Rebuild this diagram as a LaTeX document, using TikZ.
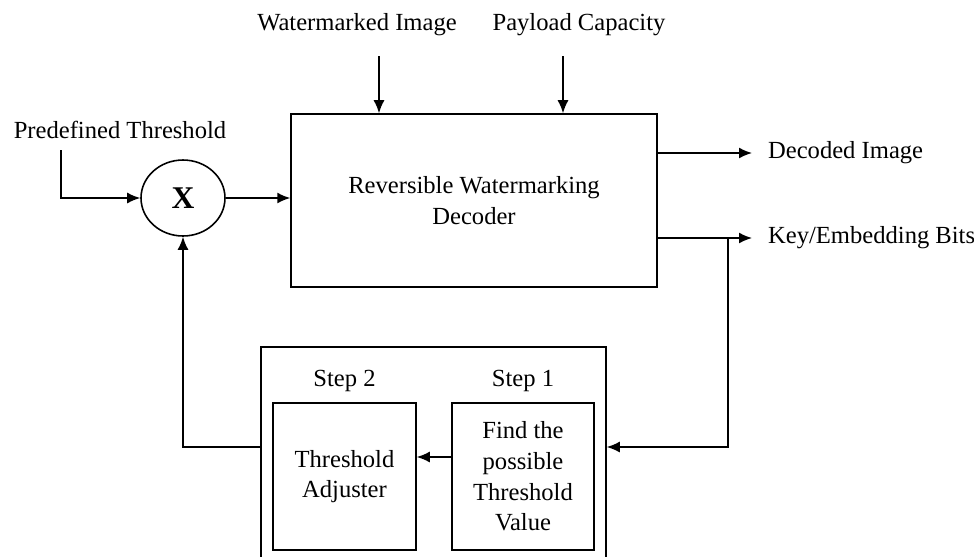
\documentclass[tikz,border=0pt]{standalone}
\usepackage{fontspec}
\setmainfont{Liberation Serif}
\usetikzlibrary{arrows.meta,positioning,shapes.geometric,calc}
\tikzset{
  bloque/.style={rectangle,draw=black,line width=0.9pt,align=center,inner sep=2pt,
    font=\fontsize{14}{17.5}\selectfont},
  texto/.style={inner sep=1pt,font=\fontsize{14}{17}\selectfont},
  mult/.style={ellipse,draw=black,line width=0.9pt,minimum width=1.68cm,minimum height=1.52cm,
    inner sep=0pt,font=\fontsize{18}{20}\selectfont\bfseries},
  flecha/.style={-{Latex[length=2.6mm,width=2.2mm]},line width=0.9pt},
}
\begin{document}
\begin{tikzpicture}[x=0.02cm,y=-0.02cm]
    \useasboundingbox (0,0) rectangle (974,556);
    \clip (0,0) rectangle (974,556);
    \node[bloque,minimum width=7.32cm,minimum height=3.46cm] (dec) at (474,200.5) {Reversible Watermarking\\Decoder};
    \node[mult] (x) at (183,198) {X};
    \node[bloque,minimum width=6.9cm,minimum height=4.66cm] (ext) at (433.5,463.5) {};
    \node[bloque,minimum width=2.86cm,minimum height=2.94cm] (paso2) at (344.5,476.5) {Threshold\\Adjuster};
    \node[bloque,minimum width=2.84cm,minimum height=2.94cm] (paso1) at (523,476.5) {Find the\\possible\\Threshold\\Value};
    \node[texto,above=0.16cm of paso2] (t2) {Step 2};
    \node[texto,above=0.16cm of paso1] (t1) {Step 1};
    \node[texto] (img) at (357,25) {Watermarked Image};
    \node[texto] (cap) at (579,25) {Payload Capacity};
    \node[texto] (umb) at (120,130) {Predefined Threshold};
    \coordinate (e1) at (379,56); \coordinate (e2) at (563,56); \coordinate (u) at (61,150);
    \coordinate (s1) at (752,153); \coordinate (s2) at (752,238);
    \coordinate (rama) at (728,238); \coordinate (ret) at (728,447); \coordinate (flujo) at (434,457);
    \node[texto,right=0.28cm of s1] (out1) {Decoded Image};
    \node[texto,right=0.28cm of s2] (out2) {Key/Embedding Bits};
    \draw[flecha] (e1)--(e1 |- dec.north); \draw[flecha] (e2)--(e2 |- dec.north);
    \draw[flecha] (u) |- (x.west); \draw[flecha] (x.east)--(x.east -| dec.west);
    \draw[flecha] (s1 -| dec.east)--(s1); \draw[flecha] (s2 -| dec.east)--(s2);
    \draw[flecha] (rama)--(ret)--(ret -| ext.east);
    \draw[flecha] (flujo -| paso1.west)--(flujo -| paso2.east);
    \draw[flecha] (ret -| ext.west) -| (x.south);
  \end{tikzpicture}
\end{document}
